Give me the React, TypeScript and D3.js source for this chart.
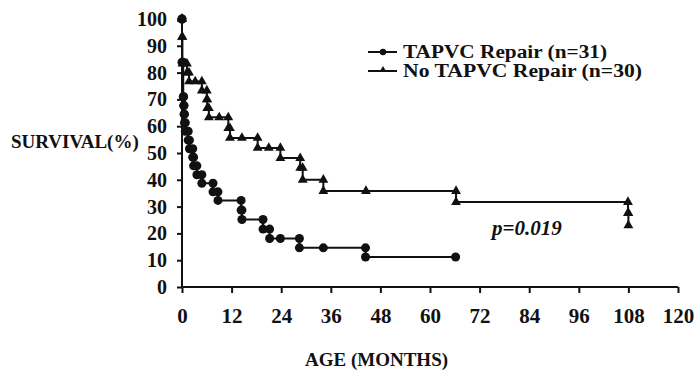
import { useEffect, useRef } from "react";
import * as d3 from "d3";

// Kaplan-Meier steps (months, survival %)
const repairMonths = [0, 0, 0.3, 0.4, 0.5, 0.6, 0.8, 1.5, 1.8, 2.6, 2.8, 3.6, 4.8, 7.5, 8.7, 14.3, 14.5, 19.6, 21.2, 23.8, 28.4, 34.2, 44.4, 66.2];
const repairSurvival = [100, 83.9, 71, 67.7, 64.5, 61.3, 58.1, 54.8, 51.6, 48.4, 45.2, 41.9, 38.7, 35.5, 32.3, 28.7, 25.2, 21.6, 18.1, 18.1, 14.6, 14.6, 11.2, 11.2];

const noRepairMonths = [0, 0, 0.1, 1.2, 1.7, 3.2, 4.8, 6.0, 6.1, 6.5, 9.0, 11.2, 11.6, 14.5, 18.3, 21.0, 23.8, 28.6, 29.2, 34.2, 44.5, 66.3, 107.9, 108.0];
const noRepairSurvival = [100, 93.3, 83.3, 80, 76.7, 76.7, 73.3, 70, 66.7, 63.3, 63.3, 59.3, 55.6, 55.6, 51.9, 51.9, 48.1, 44.4, 40, 35.8, 35.8, 31.7, 27.6, 23];

const xTicks = [0, 12, 24, 36, 48, 60, 72, 84, 96, 108, 120];
const yTicks = [0, 10, 20, 30, 40, 50, 60, 70, 80, 90, 100];

const legendLabels = ["TAPVC Repair (n=31)", "No TAPVC Repair (n=30)"];
const legendWidths = [204, 239];

const FONT = '"Liberation Serif", "Times New Roman", "DejaVu Serif", serif';

export default function App() {
  const ref = useRef<SVGSVGElement>(null);

  useEffect(() => {
    const width = 696;
    const height = 372;
    const svg = d3.select(ref.current);
    svg.selectAll("*").remove();
    svg.attr("viewBox", `0 0 ${width} ${height}`);

    svg.append("rect").attr("width", width).attr("height", height).attr("fill", "#fff");

    const x = d3.scaleLinear().domain([0, 120]).range([182, 678]);
    const y = d3.scaleLinear().domain([0, 100]).range([287, 19]);

    const styleText = (sel: any, size: number) =>
      sel.style("font-family", FONT).style("font-weight", "bold").style("font-size", `${size}px`).attr("fill", "#111");

    // Y axis
    const yAxis = svg.append("g")
      .attr("transform", `translate(${x(0)},0)`)
      .call(d3.axisLeft(y).tickValues(yTicks).tickSize(5).tickPadding(10).tickFormat(d3.format("d")));
    yAxis.select(".domain").attr("stroke", "#111").attr("stroke-width", 2).attr("d", `M0,${y(0)}V${y(100)}`);
    yAxis.selectAll(".tick line").attr("stroke", "#111").attr("stroke-width", 2);
    styleText(yAxis.selectAll("text"), 20);

    // X axis
    const xAxis = svg.append("g")
      .attr("transform", `translate(0,${y(0)})`)
      .call(d3.axisBottom(x).tickValues(xTicks).tickSize(6).tickPadding(15));
    xAxis.select(".domain").attr("stroke", "#111").attr("stroke-width", 2).attr("d", `M${x(0)},0H${x(120)}`);
    xAxis.selectAll(".tick line").attr("stroke", "#111").attr("stroke-width", 2);
    styleText(xAxis.selectAll("text"), 21);

    // axis titles
    styleText(svg.append("text").attr("x", 11).attr("y", 148).text("SURVIVAL(%)"), 19);
    styleText(svg.append("text").attr("x", 305).attr("y", 366).text("AGE (MONTHS)"), 19);

    const line = d3.line<[number, number]>()
      .x(d => x(d[0]))
      .y(d => y(d[1]))
      .curve(d3.curveStepAfter);

    const series = [
      { months: repairMonths, surv: repairSurvival, shape: "circle" },
      { months: noRepairMonths, surv: noRepairSurvival, shape: "triangle" },
    ];

    const tri = d3.symbol().type(d3.symbolTriangle).size(42);

    series.forEach(s => {
      const pts: [number, number][] = s.months.map((m, i) => [m, s.surv[i]]);
      svg.append("path")
        .attr("d", line(pts))
        .attr("fill", "none")
        .attr("stroke", "#111")
        .attr("stroke-width", 2);

      // marker at both ends of every riser, plus censor points
      const marks: [number, number][] = [];
      pts.forEach((p, i) => {
        if (i > 0 && p[1] < pts[i - 1][1]) marks.push([p[0], pts[i - 1][1]]);
        marks.push(p);
      });

      if (s.shape === "circle") {
        svg.append("g").selectAll("circle")
          .data(marks)
          .join("circle")
          .attr("cx", d => x(d[0]))
          .attr("cy", d => y(d[1]))
          .attr("r", 4.5)
          .attr("fill", "#111");
      } else {
        svg.append("g").selectAll("path")
          .data(marks)
          .join("path")
          .attr("transform", d => `translate(${x(d[0])},${y(d[1])})`)
          .attr("d", tri)
          .attr("fill", "#111");
      }
    });

    // legend
    legendLabels.forEach((label, i) => {
      const ly = 52 + i * 19;
      svg.append("line")
        .attr("x1", 368).attr("x2", 397).attr("y1", ly).attr("y2", ly)
        .attr("stroke", "#111").attr("stroke-width", 2);
      if (i === 0) {
        svg.append("circle").attr("cx", 383).attr("cy", ly).attr("r", 3.2).attr("fill", "#111");
      } else {
        svg.append("path")
          .attr("transform", `translate(383,${ly - 1})`)
          .attr("d", d3.symbol().type(d3.symbolTriangle).size(22))
          .attr("fill", "#111");
      }
      styleText(
        svg.append("text")
          .attr("x", 403).attr("y", ly + 6)
          .attr("textLength", legendWidths[i])
          .attr("lengthAdjust", "spacingAndGlyphs")
          .text(label),
        18
      );
    });

    styleText(
      svg.append("text").attr("x", 492).attr("y", 235).style("font-style", "italic").text("p=0.019"),
      21
    );
  }, []);

  return (
    <svg
      ref={ref}
      width={696}
      height={372}
      style={{ position: "absolute", left: 0, top: 0, display: "block" }}
    />
  );
}
